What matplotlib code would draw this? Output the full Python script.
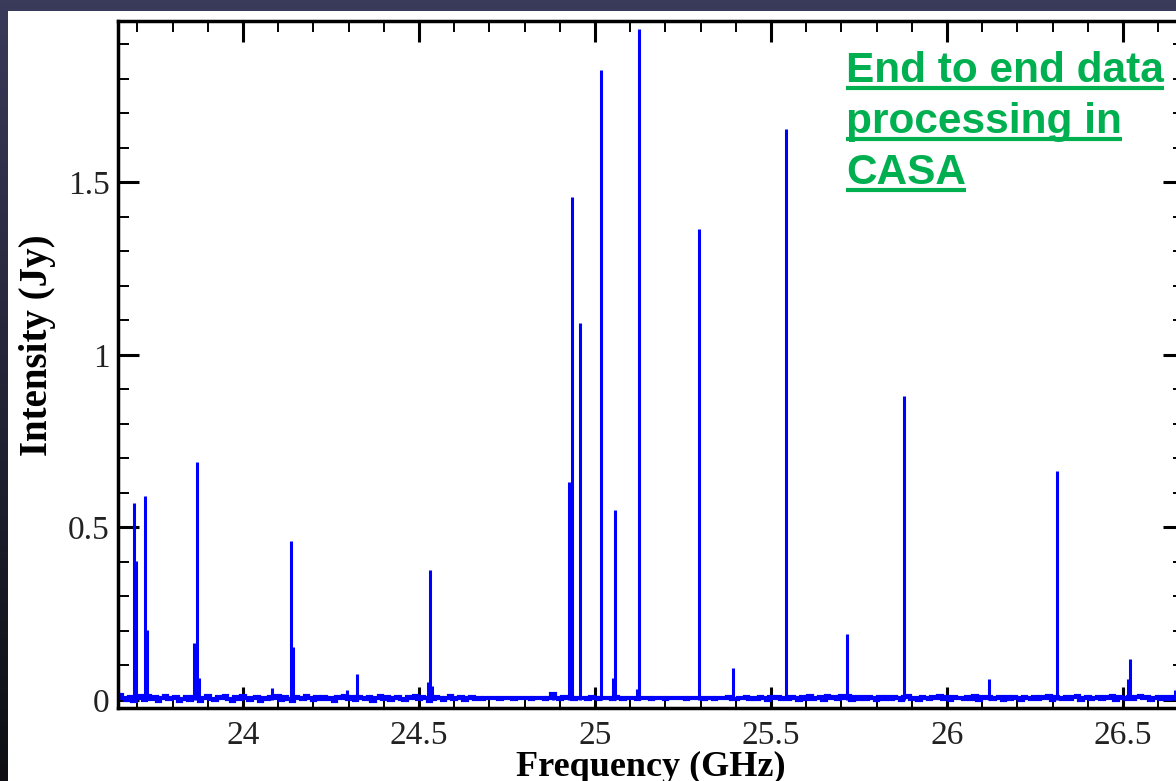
import numpy as np
import matplotlib
matplotlib.use("Agg")
import matplotlib.pyplot as plt
from matplotlib.ticker import MultipleLocator
from matplotlib.patches import Rectangle
from matplotlib.lines import Line2D

# ── data ──────────────────────────────────────────────────────────────────────
# line peaks (GHz, Jy): NH3 inversion lines + CH3OH lines
peak_freq = [23.690, 23.696, 23.722, 23.728, 23.862, 23.869, 23.875,
             24.082, 24.137, 24.143, 24.295, 24.323, 24.525, 24.532, 24.538,
             24.880, 24.925, 24.934, 24.958, 25.017, 25.050, 25.056,
             25.119, 25.125, 25.294, 25.393, 25.542, 25.715, 25.877,
             26.120, 26.313, 26.513, 26.520, 26.648]
peak_height = [0.571, 0.403, 0.591, 0.203, 0.166, 0.691, 0.065,
               0.035, 0.461, 0.155, 0.030, 0.075, 0.052, 0.377, 0.040,
               0.024, 0.631, 1.457, 1.092, 1.826, 0.065, 0.551,
               0.032, 1.945, 1.364, 0.094, 1.654, 0.190, 0.881,
               0.061, 0.664, 0.060, 0.118, 0.030]

# baseline noise, mJy, one value every 10 MHz starting at 23.64 GHz
noise_start = 23.64
noise_step = 0.01
noise_mjy = [
    18, 15, 6, 0, 9, -4, 5, 11, 1, 13, 3, 8, -3, 6, 12, 2, 5, 9, -2, 4,
    8, 1, 10, 5, -4, 6, 12, 3, 0, 9, 5, 11, 2, -3, 8, 4, 12, 6, 1, 5,
    9, -2, 6, 2, 10, 5, 13, 1, 8, 4, -3, 9, 6, 2, 11, 5, 0, 8, 4, 10,
    2, 7, -3, 9, 5, 12, 3, 8, 1, 10, 6, 2, 9, -2, 5, 11, 4, 8, 1, 6,
    10, 4, 0, 8, 5, 13, 2, 9, 6, -3, 4, 10, 7, 1, 5, 11, 2, 6, 9, 0,
    5, 8, 3, 6, 4, 7, 5, 5, 5, 4, 6, 5, 5, 4, 5, 6, 5, 5, 4, 5,
    5, 6, 4, 5, 18, 6, 3, 8, 5, 9, 4, 7, 6, 5, 3, 8, 6, 4, 7, 5,
    6, 4, 8, 5, 3, 7, 5, 6, 4, 5, 6, 5, 4, 6, 5, 5, 4, 6, 5, 5,
    5, 6, 4, 5, 5, 6, 5, 4, 6, 5, 3, 7, 5, 6, 9, 4, 2, 7, 5, 8,
    4, 7, 2, 9, 5, 1, 8, 5, 10, 3, 6, 2, 9, 5, 1, 8, 4, 11, 2, 6,
    9, 1, 12, 5, 10, 2, 13, 6, 11, 1, 8, 4, 10, 2, 9, 5, 0, 8, 4, 10,
    2, 9, 5, 0, 8, 11, 3, 6, 1, 10, 5, 2, 9, 6, 13, 3, 8, 1, 10, 5,
    6, 2, 9, 4, 11, 1, 8, 5, 10, 2, 6, 9, 0, 8, 4, 10, 5, 1, 9, 6,
    3, 10, 2, 8, 5, 12, 1, 9, 6, 3, 10, 2, 8, 11, 1, 6, 9, 3, 5, 10,
    2, 8, 5, 11, 1, 9, 6, 3, 10, 2, 8, 13, 5, 9, 1, 6, 10, 4, 8, 2,
    9, 5, 11, 4, 6,
]

x_ticks = [24, 24.5, 25, 25.5, 26, 26.5]
x_tick_labels = ["24", "24.5", "25", "25.5", "26", "26.5"]
y_ticks = [0, 0.5, 1, 1.5]
y_tick_labels = ["0", "0.5", "1", "1.5"]
note_lines = ["End to end data", "processing in", "CASA"]

# ── figure / slide background ─────────────────────────────────────────────────
W, H = 1176, 781
fig = plt.figure(figsize=(W / 100, H / 100), dpi=100)

bg = fig.add_axes([0, 0, 1, 1], zorder=-10)
bg.axis("off")
top_c = np.array([58, 58, 90]) / 255
bot_c = np.array([14, 14, 20]) / 255
t = np.linspace(0, 1, 256)[:, None]
grad = top_c[None, :] * (1 - t) + bot_c[None, :] * t
bg.imshow(grad[:, None, :], aspect="auto", extent=[0, 1, 0, 1])
fig.patches.append(Rectangle((8 / W, 0), 1, 1 - 11 / H, transform=fig.transFigure,
                             facecolor="white", edgecolor="none", zorder=-5))

# ── the spectrum ──────────────────────────────────────────────────────────────
ax = fig.add_axes([118 / W, (H - 708) / H, (1184 - 118) / W, (708 - 21) / H])
ax.set_facecolor("white")

noise_freq = noise_start + noise_step * np.arange(len(noise_mjy))
ax.step(noise_freq, np.array(noise_mjy) / 1000.0, where="mid",
        color="#0000ff", lw=3.0, solid_joinstyle="miter")
ax.vlines(peak_freq, 0, peak_height, color="#0000ff", lw=2.2)

ax.set_xlim(23.645, 26.673)
ax.set_ylim(-0.0232, 1.968)

ax.set_xticks(x_ticks)
ax.set_xticklabels(x_tick_labels)
ax.set_yticks(y_ticks)
ax.set_yticklabels(y_tick_labels)
ax.xaxis.set_minor_locator(MultipleLocator(0.1))
ax.yaxis.set_minor_locator(MultipleLocator(0.1))

ax.tick_params(which="both", direction="in", top=True, right=True,
               colors="black", labelsize=24)
ax.tick_params(which="major", length=15, width=2.2)
ax.tick_params(which="minor", length=8, width=1.4)
ax.tick_params(axis="x", pad=9)
ax.tick_params(axis="y", pad=6)
for lab in ax.get_xticklabels() + ax.get_yticklabels():
    lab.set_fontfamily("Liberation Serif")
    lab.set_color("#222222")
for sp in ax.spines.values():
    sp.set_linewidth(2.5)

# axis labels (placed in figure pixels, the x label sits on the slide edge)
fig.text(651 / W, (H - 776) / H, "Frequency (GHz)", fontsize=26,
         fontweight="bold", family="Liberation Serif", ha="center", va="baseline")
fig.text(38 / W, (H - 345) / H, "Intensity (Jy)", fontsize=28, rotation=90,
         fontweight="bold", family="Liberation Serif", ha="center", va="center")

# ── green underlined note ─────────────────────────────────────────────────────
baselines = [82, 133, 184]
notes = []
for line, yb in zip(note_lines, baselines):
    notes.append(fig.text(846 / W, (H - yb) / H, line, fontsize=30.5,
                          fontweight="bold", family="Liberation Sans",
                          color="#00b050", ha="left", va="baseline"))

fig.canvas.draw()
renderer = fig.canvas.get_renderer()
for txt, yb in zip(notes, baselines):
    bb = txt.get_window_extent(renderer)
    yu = (H - yb - 6) / H
    fig.add_artist(Line2D([bb.x0 / W, bb.x1 / W], [yu, yu], transform=fig.transFigure,
                          color="#00b050", lw=3.0, solid_capstyle="butt"))

fig.savefig("out.png", dpi=100)
